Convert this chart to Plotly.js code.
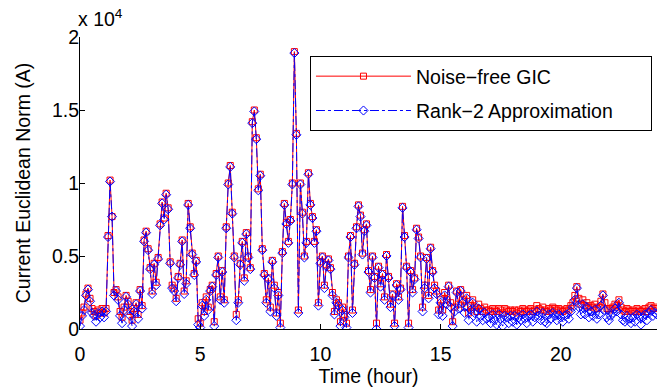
<!DOCTYPE html>
<html>
<head>
<meta charset="utf-8">
<script src="https://cdn.plot.ly/plotly-3.0.1.min.js"></script>
<style>
  html, body { margin: 0; padding: 0; background: #fff; }
  #chart { width: 657px; height: 389px; }
</style>
</head>
<body>
<div id="chart"></div>
<script>
// Sampling interval of both current records (hours)
const SAMPLE_STEP_HOURS = 5 / 60;

// Noise-free GIC: Euclidean norm of the currents, amperes, 5-minute samples from 0 h to 24 h
const noiseFreeGIC = [
  600, 1100, 1500, 2400, 2800, 2100, 1400, 1200, 900, 1300, 1100, 1400,
  1100, 1400, 6400, 10200, 7700, 2500, 2700, 2200, 1200, 800, 1500, 2300,
  1900, 1200, 600, 1400, 1800, 1000, 2700, 1600, 6100, 6700, 5500, 4200,
  2600, 4500, 3200, 4900, 7200, 8700, 7600, 9300, 8300, 4600, 3000, 2800,
  2100, 3600, 4500, 6100, 2600, 3300, 8600, 7000, 5200, 3800, 4700, 700,
  400, 1800, 1200, 2200, 1500, 2700, 3000, 500, 3800, 5000, 2200, 4000,
  2000, 7000, 10000, 11200, 8000, 5000, 1000, 2000, 4500, 6000, 3500, 6600,
  5000, 4200, 14200, 15000, 13100, 9600, 10600, 5500, 3800, 2000, 3500, 1500,
  4700, 3000, 1100, 2500, 400, 5300, 8600, 7300, 6000, 7500, 10000, 19000,
  13400, 1300, 10000, 8000, 5000, 6000, 10700, 8600, 7700, 6000, 6800, 1800,
  4600, 5000, 3000, 4400, 4800, 4200, 2500, 1200, 2000, 1800, 500, 1500,
  1000, 400, 5000, 6400, 1300, 4500, 7000, 8500, 7800, 5200, 6800, 7200,
  4000, 2700, 5000, 3600, 400, 4300, 3100, 3800, 2200, 5100, 3600, 1700,
  2400, 400, 3100, 2200, 2800, 8400, 6400, 4300, 400, 4000, 2700, 3500,
  6900, 6300, 5000, 1500, 3000, 4900, 2300, 5600, 4000, 3000, 2600, 1300,
  2000, 1300, 2500, 2000, 3000, 1800, 500, 1500, 2600, 1700, 2700, 2000,
  1500, 2300, 1100, 1600, 2000, 1500, 1200, 1700, 1400, 1200, 1500, 1300,
  1300, 1200, 1400, 1300, 1200, 1400, 1300, 1100, 1400, 1300, 1200, 1300,
  1200, 1300, 1100, 1300, 1200, 1400, 1300, 1200, 1300, 1400, 1200, 1300,
  1600, 1400, 1300, 1500, 1300, 1200, 1400, 1300, 1500, 1400, 1300, 1400,
  1300, 1200, 1300, 1400, 1300, 1600, 1800, 2300, 2900, 2100, 1700, 2000,
  1600, 1800, 1500, 1600, 1500, 1700, 1400, 1500, 1900, 2400, 1800, 1400,
  1300, 1400, 1500, 1700, 1600, 2000, 1500, 1300, 1200, 1400, 1300, 1200,
  1300, 1200, 1400, 1300, 1200, 1300, 1400, 1200, 1500, 1600, 1400, 1500,
  1400
];

// Rank-2 approximation of the same currents, amperes, same time grid
const rank2Approx = [
  200, 900, 1300, 2300, 2700, 1900, 1100, 900, 500, 1100, 800, 1200,
  800, 1200, 6300, 10100, 7700, 2300, 2600, 2000, 900, 400, 1300, 2200,
  1700, 900, 200, 1200, 1700, 700, 2600, 1400, 6000, 6600, 5400, 4100,
  2400, 4400, 3000, 4800, 7100, 8600, 7500, 9200, 8200, 4500, 2800, 2600,
  1900, 3500, 4400, 6000, 2400, 3100, 8500, 6900, 5100, 3700, 4600, 300,
  100, 1600, 900, 2000, 1300, 2600, 2900, 200, 3700, 4900, 2000, 3900,
  1800, 6900, 9900, 11100, 7900, 4900, 600, 1800, 4400, 5900, 3300, 6500,
  4900, 4100, 14100, 14900, 13000, 9500, 10500, 5400, 3700, 1800, 3400, 1200,
  4600, 2800, 900, 2300, 100, 5200, 8500, 7200, 5900, 7400, 9900, 18900,
  13300, 1100, 9900, 7900, 4900, 5900, 10600, 8500, 7600, 5900, 6700, 1600,
  4500, 4900, 2800, 4300, 4700, 4100, 2300, 1000, 1800, 1600, 200, 1300,
  800, 100, 4900, 6300, 1100, 4400, 6900, 8400, 7700, 5100, 6700, 7100,
  3900, 2500, 4900, 3500, 0, 4200, 2900, 3700, 2000, 5000, 3500, 1500,
  2300, 200, 3000, 2000, 2700, 8300, 6300, 4200, 100, 3900, 2500, 3400,
  6800, 6200, 4900, 1200, 2800, 4800, 2100, 5500, 3900, 2800, 2400, 1000,
  1800, 900, 2300, 1700, 2900, 1500, 200, 1200, 2500, 1400, 2600, 1800,
  1100, 2100, 600, 1300, 1800, 1100, 500, 1400, 900, 600, 1100, 700,
  800, 400, 1000, 600, 300, 1000, 700, 200, 900, 800, 400, 900,
  500, 900, 300, 800, 600, 1000, 700, 400, 900, 1000, 500, 800,
  1200, 900, 600, 1100, 500, 400, 1000, 700, 1100, 900, 600, 1000,
  800, 500, 900, 1000, 700, 1200, 1500, 2000, 2800, 1500, 1000, 1700,
  1000, 1500, 800, 1200, 900, 1300, 700, 1000, 1600, 2300, 1300, 800,
  600, 900, 1100, 1400, 1200, 1800, 1000, 600, 500, 900, 700, 400,
  800, 500, 1000, 900, 300, 800, 1000, 600, 1100, 1300, 900, 1100,
  1000
];

// Axis ticks
const xTicks = [0, 5, 10, 15, 20];
const yTickValues = [0, 5000, 10000, 15000, 20000];
const yTickLabels = ['0', '0.5', '1', '1.5', '2'];

// Series names (trailing no-break spaces pad the legend box on the right)
const seriesNames = ['Noise\u2212free GIC', 'Rank\u22122 Approximation\u00a0\u00a0\u00a0\u00a0\u00a0\u00a0'];

const timeHours = noiseFreeGIC.map((_, i) => i * SAMPLE_STEP_HOURS);

const FONT = 'Liberation Sans, Arial, Helvetica, sans-serif';
const FS = 19.5;

const traces = [
  {
    x: timeHours,
    y: noiseFreeGIC,
    name: seriesNames[0],
    legendgroup: 'gic',
    type: 'scatter',
    mode: 'lines+markers',
    line: { color: '#ff0000', width: 1 },
    marker: { symbol: 'square-open', size: 6, color: '#ff0000', line: { width: 1 } }
  },
  {
    x: timeHours,
    y: rank2Approx,
    name: seriesNames[1],
    legendgroup: 'rank2',
    type: 'scatter',
    mode: 'lines+markers',
    line: { color: '#0000ff', width: 1, dash: 'dashdot' },
    marker: { symbol: 'diamond-open', size: 7, color: '#0000ff', line: { width: 1 } }
  }
];

const layout = {
  width: 657,
  height: 389,
  margin: { l: 80, r: 0, t: 37, b: 60 },
  paper_bgcolor: '#ffffff',
  plot_bgcolor: '#ffffff',
  font: { family: FONT, size: FS, color: '#000000' },
  showlegend: true,
  legend: {
    x: 0.9913, xanchor: 'right',
    y: 0.935, yanchor: 'top',
    bgcolor: '#ffffff',
    bordercolor: '#000000',
    borderwidth: 1,
    itemwidth: 95,
    traceorder: 'grouped',
    tracegroupgap: 6,
    font: { family: FONT, size: FS, color: '#000000' }
  },
  xaxis: {
    range: [0, 24],
    tickvals: xTicks,
    ticktext: xTicks.map(String),
    ticks: 'inside',
    ticklen: 5,
    tickcolor: '#000000',
    showline: true,
    linecolor: '#000000',
    linewidth: 1,
    showgrid: false,
    zeroline: false,
    mirror: false,
    ticklabelstandoff: 8,
    tickfont: { family: FONT, size: FS },
    title: { text: 'Time (hour)', font: { family: FONT, size: FS }, standoff: 2 }
  },
  yaxis: {
    range: [0, 20000],
    tickvals: yTickValues,
    ticktext: yTickLabels,
    ticks: 'inside',
    ticklen: 5,
    tickcolor: '#000000',
    showline: true,
    linecolor: '#000000',
    linewidth: 1,
    showgrid: false,
    zeroline: false,
    mirror: false,
    ticklabelstandoff: -4,
    tickfont: { family: FONT, size: FS },
    title: { text: 'Current Euclidean Norm (A)', font: { family: FONT, size: FS }, standoff: 16 }
  },
  annotations: [
    {
      text: 'x 10<sup>4</sup>',
      xref: 'paper', yref: 'paper',
      x: 0, y: 1,
      xanchor: 'left', yanchor: 'bottom',
      xshift: -4,
      yshift: 5,
      showarrow: false,
      font: { family: FONT, size: FS, color: '#000000' }
    }
  ]
};

Plotly.newPlot('chart', traces, layout, { displayModeBar: false, staticPlot: true });
</script>
</body>
</html>
